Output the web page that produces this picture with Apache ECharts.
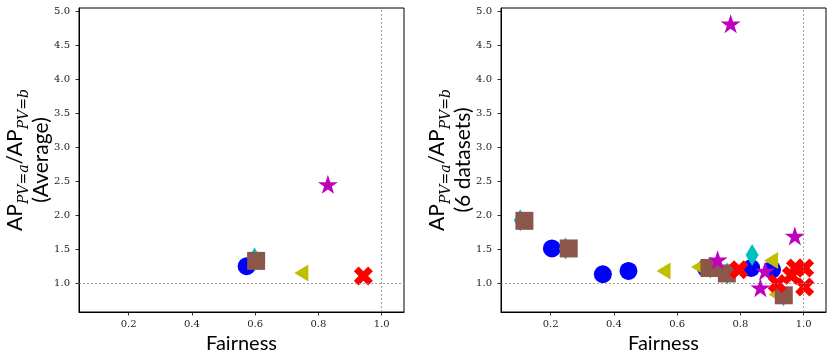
<!DOCTYPE html>
<html>
<head>
<meta charset="utf-8">
<script src="https://cdn.jsdelivr.net/npm/echarts@6/dist/echarts.min.js"></script>
<style>
  html, body { margin: 0; padding: 0; background: #fff; }
  #chart { width: 831px; height: 357px; }
</style>
</head>
<body>
<div id="chart"></div>
<script>
// ticks
const xTicks = [0.2, 0.4, 0.6, 0.8, 1.0]
const yTicks = [1.0, 1.5, 2.0, 2.5, 3.0, 3.5, 4.0, 4.5, 5.0]

// left panel: average over datasets  [fairness, AP ratio]
const blueAvg = [[0.573, 1.246]]
const cyanAvg = [[0.598, 1.36]]
const oliveAvg = [[0.746, 1.148]]
const brownAvg = [[0.603, 1.325]]
const magentaAvg = [[0.830, 2.452]]
const redAvg = [[0.942, 1.103]]

// right panel: 6 datasets
const blueSets = [[0.204, 1.508], [0.365, 1.128], [0.446, 1.177], [0.69, 1.22], [0.834, 1.22], [0.90, 1.195]]
const cyanSets = [[0.104, 1.925], [0.247, 1.508], [0.705, 1.227], [0.758, 1.139], [0.837, 1.41], [0.936, 0.82]]
const oliveSets = [[0.557, 1.177], [0.666, 1.236], [0.897, 1.33], [0.911, 0.83]]
const brownSets = [[0.117, 1.915], [0.257, 1.508], [0.702, 1.22], [0.757, 1.14], [0.937, 0.818]]
const magentaSets = [[0.769, 4.818], [0.728, 1.34], [0.878, 1.175], [0.863, 0.93], [0.972, 1.69]]
const redSets = [[0.795, 1.195], [0.916, 0.99], [0.974, 1.22], [1.003, 1.22], [0.961, 1.11], [1.003, 0.94]]

const starPath = 'path://M50,0L61.23,34.55L97.55,34.55L68.17,55.9L79.39,90.45L50,69.1L20.61,90.45L31.83,55.9L2.45,34.55L38.77,34.55Z'
const xPath = 'path://M25,0L50,25L75,0L100,25L75,50L100,75L75,100L50,75L25,100L0,75L25,50L0,25Z'

const chart = echarts.init(document.getElementById('chart'))

const tickFont = { fontFamily: 'DejaVu Serif', fontSize: 10, color: '#222' }

function xAxis(idx) {
  return {
    type: 'value', gridIndex: idx, min: 0.043, max: 1.0705,
    name: 'Fairness', nameLocation: 'middle', nameGap: 19,
    nameTextStyle: { fontFamily: 'Lato', fontSize: 20, color: '#000' },
    axisLine: { lineStyle: { color: '#000', width: 1 } },
    axisTick: { length: 3.5, lineStyle: { color: '#000', width: 0.8 }, customValues: xTicks },
    axisLabel: Object.assign({ margin: 7, customValues: xTicks, formatter: v => v.toFixed(1) }, tickFont),
    splitLine: { show: false }
  }
}

function yAxis(idx, second) {
  return {
    type: 'value', gridIndex: idx, min: 0.572, max: 5.05,
    name: '{m|AP}{s|PV=a}{m|/AP}{s|PV=b}\n{t|' + second + '}',
    nameLocation: 'middle', nameRotate: 90, nameGap: 27, nameMoveOverlap: false,
    nameTextStyle: {
      rich: {
        m: { fontFamily: 'Lato', fontSize: 21, color: '#000', verticalAlign: 'bottom', padding: [0, 0, 5, 0], lineHeight: 18 },
        s: { fontFamily: 'DejaVu Serif', fontStyle: 'italic', fontSize: 14, color: '#000', verticalAlign: 'bottom', lineHeight: 12 },
        t: { fontFamily: 'Lato', fontSize: 21, color: '#000', lineHeight: 21 }
      }
    },
    axisLine: { lineStyle: { color: '#000', width: 1 } },
    axisTick: { length: 3.5, lineStyle: { color: '#000', width: 0.8 }, customValues: yTicks },
    axisLabel: Object.assign({ margin: 9, customValues: yTicks, formatter: v => v.toFixed(1) }, tickFont),
    splitLine: { show: false }
  }
}

function refLines() {
  return {
    silent: true, symbol: 'none', label: { show: false },
    lineStyle: { type: [2, 2], color: '#888', width: 0.8 },
    data: [{ yAxis: 1 }, { xAxis: 1 }]
  }
}

function panel(idx, blue, cyan, olive, brown, magenta, red) {
  const base = { type: 'scatter', xAxisIndex: idx, yAxisIndex: idx }
  return [
    Object.assign({}, base, { data: blue, symbol: 'circle', symbolSize: 18, itemStyle: { color: '#0000ff', opacity: 1 }, markLine: refLines() }),
    Object.assign({}, base, { data: cyan, symbol: 'diamond', symbolSize: [13, 22], itemStyle: { color: '#00bfbf', opacity: 1 } }),
    Object.assign({}, base, { data: olive, symbol: 'triangle', symbolRotate: 90, symbolSize: [17, 14], itemStyle: { color: '#bfbf00', opacity: 1 } }),
    Object.assign({}, base, { data: brown, symbol: 'rect', symbolSize: 18, itemStyle: { color: '#8c564b', opacity: 1 } }),
    Object.assign({}, base, { data: magenta, symbol: starPath, symbolSize: [20, 19], itemStyle: { color: '#bf00bf', opacity: 1 } }),
    Object.assign({}, base, { data: red, symbol: xPath, symbolSize: 19, itemStyle: { color: '#ff0000', opacity: 1 } })
  ]
}

chart.setOption({
  animation: false,
  grid: [
    { left: 79, top: 8, width: 325, height: 304, show: true, borderColor: '#000', borderWidth: 1, outerBoundsMode: 'none' },
    { left: 501, top: 8, width: 325, height: 304, show: true, borderColor: '#000', borderWidth: 1, outerBoundsMode: 'none' }
  ],
  xAxis: [xAxis(0), xAxis(1)],
  yAxis: [yAxis(0, '(Average)'), yAxis(1, '(6 datasets)')],
  series: [].concat(
    panel(0, blueAvg, cyanAvg, oliveAvg, brownAvg, magentaAvg, redAvg),
    panel(1, blueSets, cyanSets, oliveSets, brownSets, magentaSets, redSets)
  )
})
</script>
</body>
</html>
